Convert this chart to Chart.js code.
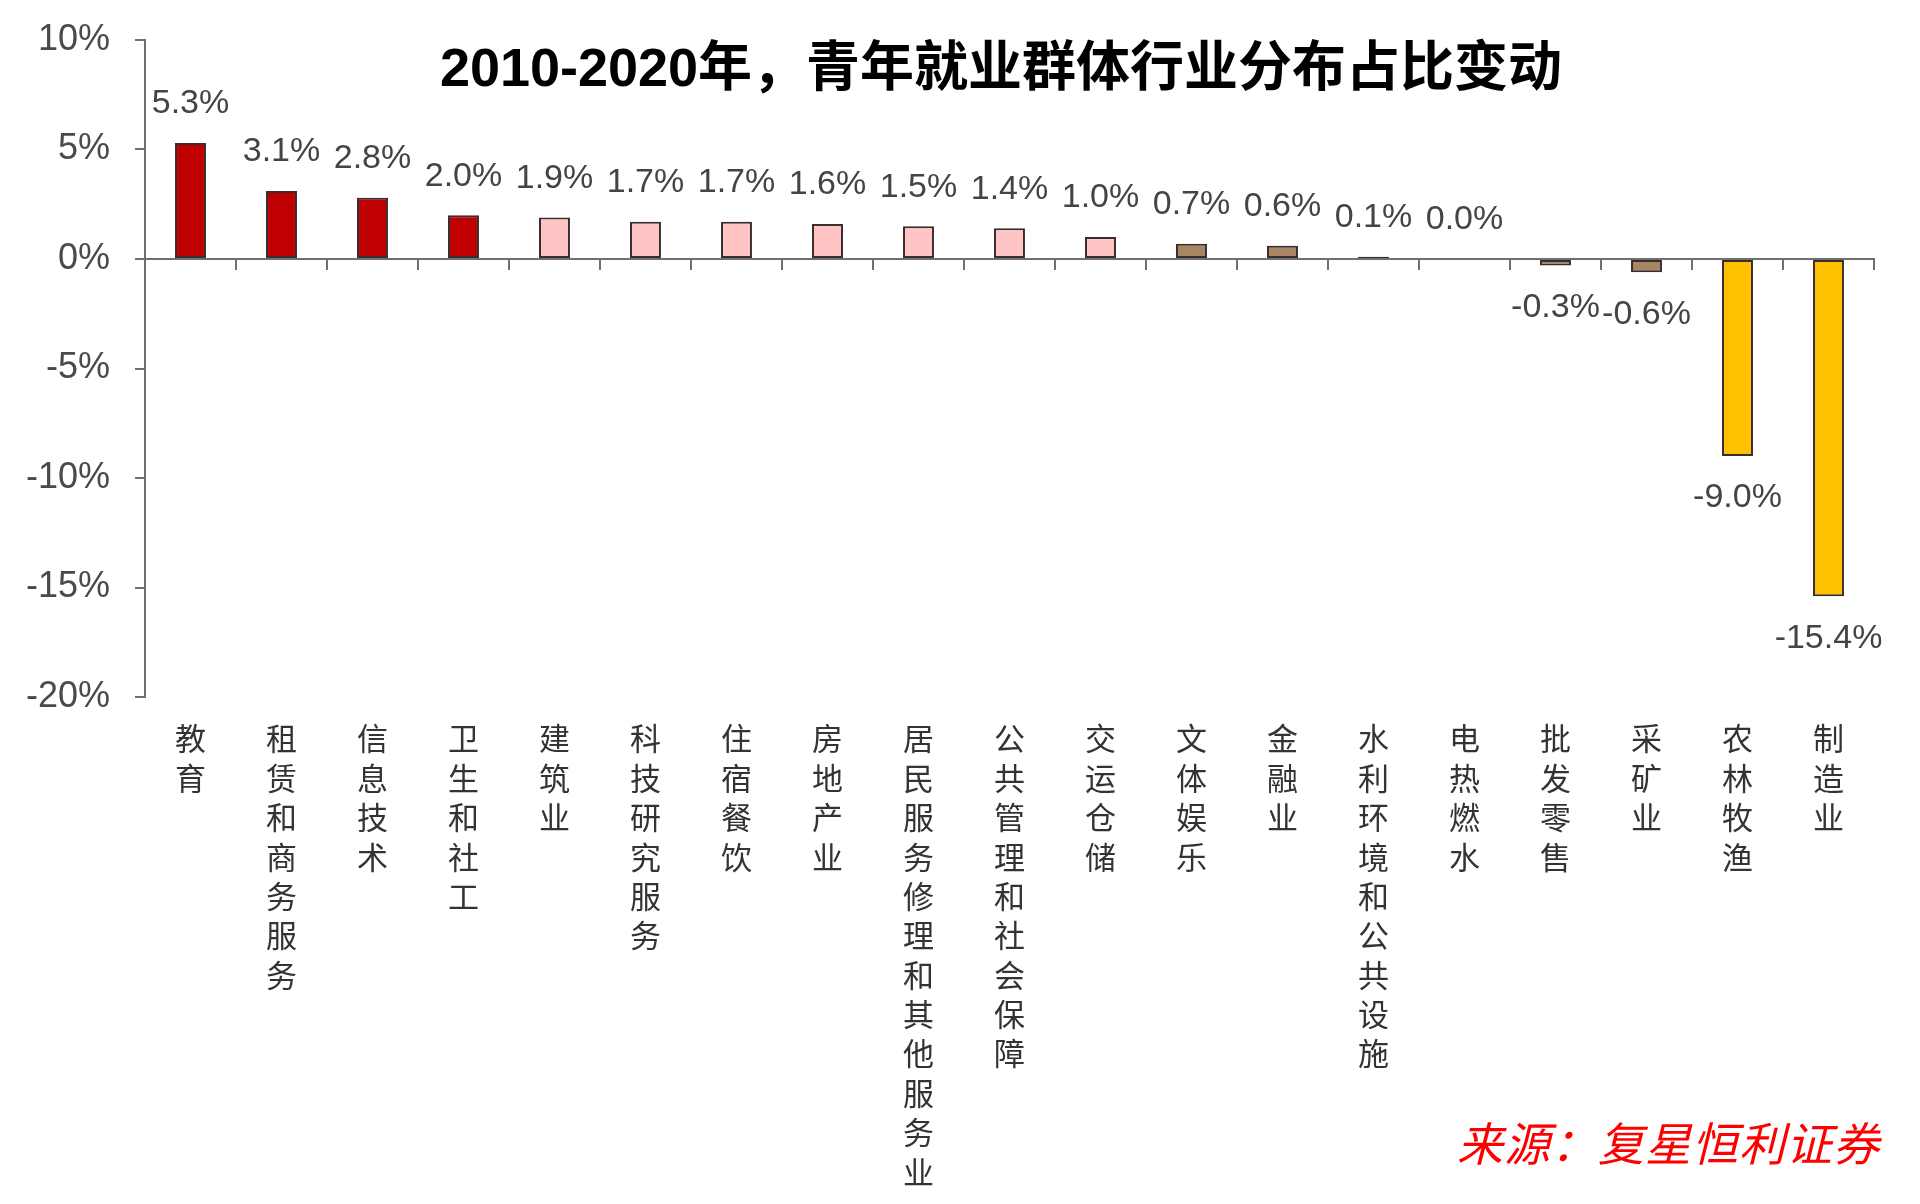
<!DOCTYPE html>
<html>
<head>
<meta charset="utf-8">
<script src="https://cdn.jsdelivr.net/npm/chart.js@4.4.1/dist/chart.umd.min.js"></script>
<style>
  body { margin: 0; background: #fff; }
  #wrap { position: relative; width: 1920px; height: 1204px; }
  #title {
    position: absolute; left: 1001px; top: 62px; transform: translate(-50%, -50%);
    font: bold 54px "Liberation Sans", "Noto Sans CJK SC", sans-serif; color: #000; white-space: nowrap;
  }
  #source {
    position: absolute; left: 1457px; top: 1108px; letter-spacing: 1px;
    font: italic 46px "Noto Sans CJK SC", sans-serif; color: #ff0000; white-space: nowrap;
  }
</style>
</head>
<body>
<div id="wrap">
  <canvas id="chart" width="1920" height="1204"></canvas>
  <div id="title">2010-2020年，青年就业群体行业分布占比变动</div>
  <div id="source">来源：复星恒利证券</div>
</div>
<script>
// industries, left to right
const categories = ["教育", "租赁和商务服务", "信息技术", "卫生和社工", "建筑业", "科技研究服务", "住宿餐饮", "房地产业",
  "居民服务修理和其他服务业", "公共管理和社会保障", "交运仓储", "文体娱乐", "金融业", "水利环境和公共设施",
  "电热燃水", "批发零售", "采矿业", "农林牧渔", "制造业"];

// change in share, percentage points
const changes = [5.3, 3.1, 2.8, 2.0, 1.9, 1.7, 1.7, 1.6, 1.5, 1.4, 1.0, 0.7, 0.6, 0.1, 0.0, -0.3, -0.6, -9.0, -15.4];

// colour group of each bar
const groups = ["red", "red", "red", "red", "pink", "pink", "pink", "pink", "pink", "pink", "pink",
  "brown", "brown", "brown", "brown", "brown", "brown", "gold", "gold"];

const yTicks = { min: -20, max: 10, step: 5 };

const groupColors = { red: "#c00000", pink: "#ffc4c4", brown: "#a88563", gold: "#ffc000" };

// vertical labels: one character per line
const verticalLabels = categories.map(c => c.split(""));

// value labels above / below each bar
const valueLabels = {
  id: "valueLabels",
  afterDatasetsDraw(chart) {
    const ctx = chart.ctx;
    const meta = chart.getDatasetMeta(0);
    ctx.save();
    ctx.font = "34px 'Liberation Sans', Arial, sans-serif";
    ctx.fillStyle = "#444";
    ctx.textAlign = "center";
    ctx.textBaseline = "middle";
    meta.data.forEach((bar, i) => {
      const v = changes[i];
      const y = v >= 0 ? bar.y - 39 : bar.y + 42;
      ctx.fillText(v.toFixed(1) + "%", bar.x, y);
    });
    ctx.restore();
  }
};

new Chart(document.getElementById("chart"), {
  type: "bar",
  data: {
    labels: verticalLabels,
    datasets: [{
      data: changes,
      xAxisID: "x",
      backgroundColor: groups.map(g => groupColors[g]),
      borderColor: "#3a2c2c",
      borderWidth: 2,
      borderSkipped: false,
      barPercentage: 0.34,
      categoryPercentage: 1
    }]
  },
  options: {
    responsive: false,
    devicePixelRatio: 1,
    animation: false,
    layout: { padding: { top: 40, right: 46, bottom: 0, left: 0 } },
    plugins: { legend: { display: false }, tooltip: { enabled: false } },
    scales: {
      x: {
        position: "bottom",
        offset: true,
        grid: { display: false, drawTicks: false, offset: true },
        border: { display: false },
        ticks: {
          maxRotation: 0, minRotation: 0, autoSkip: false, padding: 22,
          color: "#333",
          font: { family: "'Noto Sans CJK SC', sans-serif", size: 31, lineHeight: 1.27 }
        },
        afterFit(scale) { scale.height = 507; }
      },
      // zero line with the category tick marks
      x2: {
        position: { y: 0 },
        offset: true,
        grid: { offset: true, drawOnChartArea: false, tickLength: 10, color: "#707070", lineWidth: 2 },
        border: { color: "#707070", width: 2 },
        ticks: { display: false }
      },
      y: {
        min: yTicks.min,
        max: yTicks.max,
        ticks: {
          stepSize: yTicks.step,
          padding: 25,
          color: "#4a4a4a",
          font: { family: "'Liberation Sans', Arial, sans-serif", size: 36 },
          callback: v => v + "%"
        },
        grid: { drawOnChartArea: false, tickLength: 10, color: "#707070", lineWidth: 2 },
        border: { color: "#707070", width: 2 },
        afterFit(scale) {
          scale.width = 145;
          scale.paddingTop = 0;
          scale.paddingBottom = 0;
        }
      }
    }
  },
  plugins: [valueLabels]
});
</script>
</body>
</html>
